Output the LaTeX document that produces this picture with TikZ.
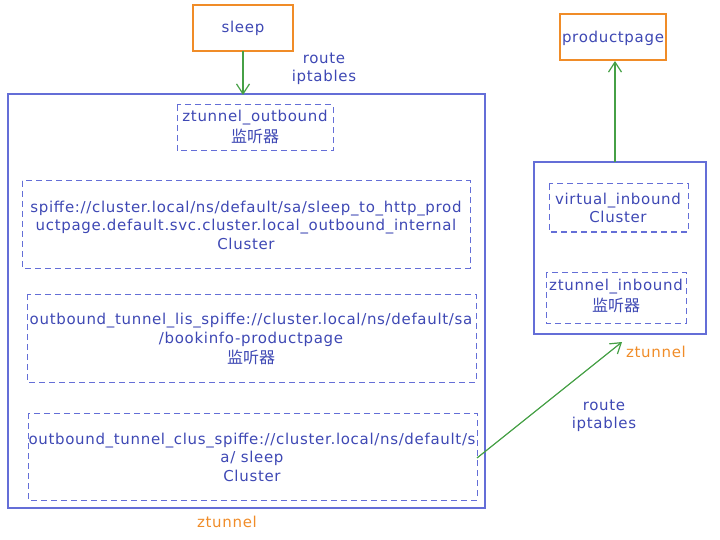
\documentclass[tikz,border=0pt]{standalone}
\usepackage{fontspec}
\setmainfont{DejaVu Sans}[LetterSpace=4.5]
\newfontfamily\cjk{Noto Sans CJK SC}
\usetikzlibrary{arrows.meta}
\definecolor{tblue}{RGB}{62,72,180}
\definecolor{bblue}{RGB}{100,110,215}
\definecolor{torange}{RGB}{240,140,40}
\definecolor{tgreen}{RGB}{70,160,70}
\begin{document}
\begin{tikzpicture}[x=1pt,y=-1pt,
  every node/.style={text=tblue,font=\fontsize{15}{18.5}\selectfont,align=center,inner sep=0pt},
  appbox/.style={draw=torange,line width=1.3pt,fill=white},
  groupbox/.style={draw=bblue,line width=1.1pt},
  dashbox/.style={draw=bblue,line width=1pt,dash pattern=on 6pt off 4pt},
  flow/.style={draw=tgreen,line width=1.2pt,-{Straight Barb[length=10pt,width=13pt,line width=1.2pt]}},
  olabel/.style={text=torange},
  cn/.style={font=\cjk\fontsize{16}{18}\selectfont}
]
\useasboundingbox (0,0) rectangle (720,540);
% left side
\draw[appbox] (193,5) rectangle (293,51);
\node (sleep) at (243,28) {sleep};
\coordinate (sleepb) at (243,51);
\draw[groupbox] (8,94) rectangle (485,508);
\coordinate (bigtop) at (243,95);
\draw[flow] (sleepb) -- (bigtop);
\node (r1) at (324,69) {route\\iptables};

\draw[dashbox] (177,105) rectangle (333,151);
\node (zo) at (255,118) {ztunnel\_outbound};
\node[cn] (zoc) at (255,136) {监听器};

\draw[dashbox] (22,181) rectangle (470,268);
\node (sp) at (246,225) {spiffe://cluster.local/ns/default/sa/sleep\_to\_http\_prod\\uctpage.default.svc.cluster.local\_outbound\_internal\\Cluster};

\draw[dashbox] (27,294) rectangle (476,382);
\node (lis) at (251,330) {outbound\_tunnel\_lis\_spiffe://cluster.local/ns/default/sa\\/bookinfo-productpage};
\node[cn] (lisc) at (251,357) {监听器};

\draw[dashbox] (28,413) rectangle (477,500);
\node (clus) at (252,457) {outbound\_tunnel\_clus\_spiffe://cluster.local/ns/default/s\\a/ sleep\\Cluster};
\coordinate (clusr) at (477,458);

\node[olabel] (zl) at (227,522) {ztunnel};

% right side
\draw[appbox] (560,14) rectangle (666,60);
\node (pp) at (613,38) {productpage};
\coordinate (ppb) at (615,61);
\draw[groupbox] (534,162) rectangle (706,334);
\coordinate (rtop) at (615,162);
\draw[flow] (rtop) -- (ppb);

\draw[dashbox] (549,184) rectangle (688,232);
\node (vi) at (618,208) {virtual\_inbound\\Cluster};

\draw[dashbox] (546,272) rectangle (686,323);
\node (zi) at (616,287) {ztunnel\_inbound};
\node[cn] (zic) at (616,305) {监听器};

\node[olabel] (zr) at (656,352) {ztunnel};
\coordinate (zrl) at (622,342);
\draw[flow] (clusr) -- (zrl);
\node (r2) at (604,416) {route\\iptables};
\end{tikzpicture}
\end{document}
